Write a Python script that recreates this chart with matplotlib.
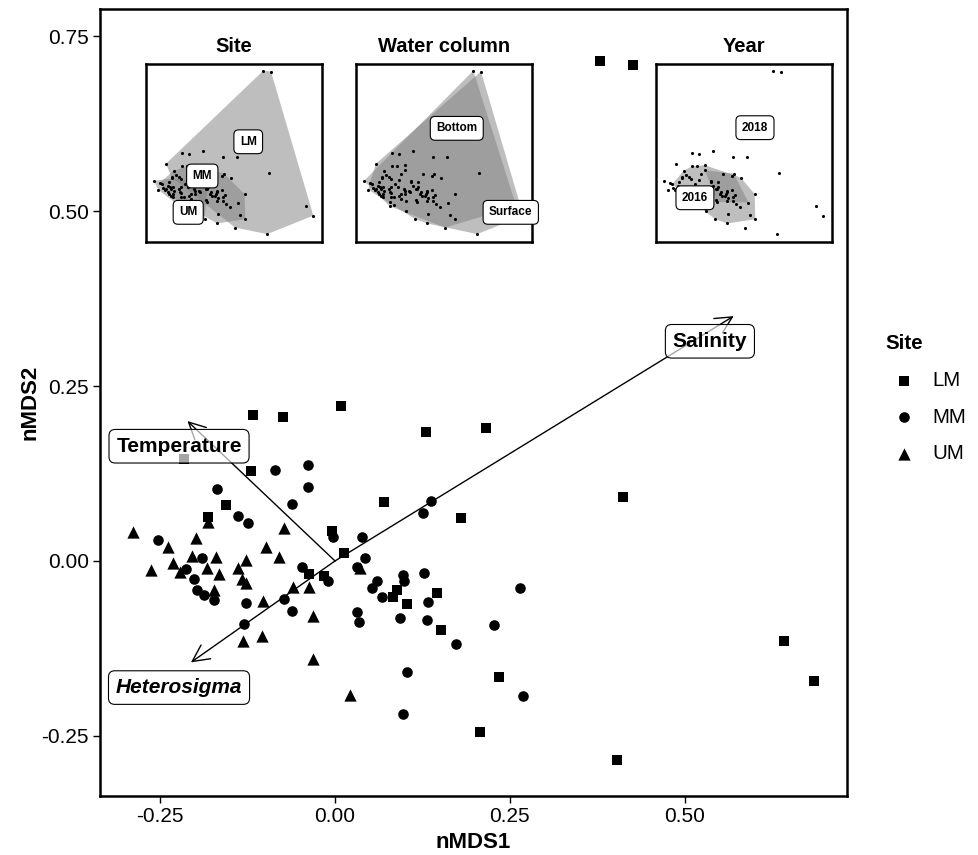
import numpy as np
import matplotlib
matplotlib.use("Agg")
import matplotlib.pyplot as plt
from matplotlib.patches import Polygon

plt.rcParams['font.family'] = ['Liberation Sans', 'DejaVu Sans']
plt.rcParams['axes.unicode_minus'] = False

# nMDS scores per site
lm_x = [0.379, 0.426, -0.117, -0.074, 0.009, -0.216, -0.120, -0.156, -0.182, -0.004,
        0.013, -0.037, -0.016, 0.130, 0.216, 0.070, 0.180, 0.089, 0.083, 0.103,
        0.146, 0.152, 0.235, 0.412, 0.642, 0.685, 0.207, 0.403]
lm_y = [0.714, 0.709, 0.209, 0.206, 0.221, 0.146, 0.129, 0.080, 0.063, 0.043,
        0.011, -0.019, -0.021, 0.184, 0.190, 0.084, 0.061, -0.041, -0.051, -0.061,
        -0.046, -0.099, -0.166, 0.091, -0.114, -0.171, -0.244, -0.284]
lm_depth = ['B', 'S', 'B', 'S', 'B', 'S', 'B', 'S', 'B', 'S',
            'B', 'S', 'B', 'S', 'B', 'S', 'B', 'S', 'B', 'S',
            'B', 'S', 'B', 'S', 'B', 'S', 'B', 'S']
lm_year = [2018, 2018, 2018, 2018, 2018, 2018, 2016, 2016, 2016, 2016,
           2017, 2016, 2016, 2018, 2018, 2016, 2016, 2017, 2016, 2016,
           2016, 2016, 2016, 2018, 2018, 2018, 2018, 2018]

mm_x = [-0.086, -0.039, -0.169, -0.039, -0.062, -0.139, -0.124, -0.003, -0.253, -0.190,
        -0.213, -0.202, -0.197, -0.187, -0.173, -0.047, -0.010, -0.073, -0.127, -0.062,
        -0.130, 0.137, 0.126, 0.039, 0.043, 0.031, 0.060, 0.053, 0.067, 0.097,
        0.099, 0.127, 0.133, 0.132, 0.093, 0.031, 0.034, 0.173, 0.227, 0.265,
        0.103, 0.269, 0.097]
mm_y = [0.130, 0.137, 0.103, 0.106, 0.081, 0.064, 0.054, 0.034, 0.030, 0.004,
        -0.011, -0.026, -0.041, -0.049, -0.056, -0.009, -0.029, -0.054, -0.060, -0.071,
        -0.090, 0.086, 0.069, 0.034, 0.004, -0.009, -0.029, -0.039, -0.051, -0.020,
        -0.029, -0.017, -0.059, -0.084, -0.081, -0.073, -0.087, -0.119, -0.091, -0.039,
        -0.159, -0.193, -0.219]
mm_depth = ['S', 'B', 'S', 'B', 'S', 'B', 'S', 'B', 'S', 'B',
            'S', 'B', 'S', 'B', 'S', 'B', 'S', 'B', 'S', 'B',
            'S', 'B', 'S', 'B', 'S', 'B', 'S', 'B', 'S', 'B',
            'S', 'B', 'S', 'B', 'S', 'B', 'S', 'B', 'S', 'B',
            'S', 'B', 'S']
mm_year = [2016, 2016, 2016, 2017, 2016, 2016, 2016, 2016, 2018, 2016,
           2018, 2018, 2018, 2018, 2018, 2016, 2016, 2016, 2018, 2016,
           2018, 2017, 2017, 2016, 2017, 2016, 2016, 2016, 2016, 2017,
           2016, 2016, 2017, 2016, 2016, 2017, 2017, 2016, 2017, 2016,
           2016, 2016, 2016]

um_x = [-0.289, -0.073, -0.199, -0.239, -0.099, -0.080, -0.205, -0.170, -0.127, -0.232,
        -0.183, -0.263, -0.222, -0.139, -0.166, -0.133, -0.127, -0.173, -0.060, -0.037,
        -0.103, -0.031, -0.132, -0.104, -0.182, 0.036, -0.031, 0.021]
um_y = [0.041, 0.047, 0.033, 0.020, 0.020, 0.006, 0.007, 0.006, 0.001, -0.003,
        -0.010, -0.013, -0.016, -0.010, -0.019, -0.026, -0.031, -0.041, -0.037, -0.037,
        -0.057, -0.079, -0.114, -0.107, 0.056, -0.010, -0.140, -0.191]
um_depth = ['B', 'S', 'B', 'S', 'B', 'S', 'B', 'S', 'B', 'S',
            'B', 'S', 'B', 'S', 'B', 'S', 'B', 'S', 'B', 'S',
            'B', 'S', 'B', 'S', 'B', 'S', 'B', 'S']
um_year = [2018, 2016, 2016, 2016, 2016, 2016, 2018, 2016, 2016, 2018,
           2018, 2018, 2018, 2016, 2018, 2016, 2016, 2018, 2016, 2016,
           2016, 2016, 2018, 2018, 2018, 2016, 2016, 2016]

# environmental vectors
vec_names = ['Salinity', 'Temperature', 'Heterosigma']
vec_x = [0.570, -0.211, -0.206]
vec_y = [0.350, 0.200, -0.145]
vec_lab_x = [0.536, -0.223, -0.223]
vec_lab_y = [0.314, 0.164, -0.181]

sites = ['LM', 'MM', 'UM']
site_markers = {'LM': 's', 'MM': 'o', 'UM': '^'}
site_sizes = {'LM': 60, 'MM': 58, 'UM': 78}

# inset group labels
site_lab = {'LM': (0.287, 0.280), 'MM': (0.006, 0.071), 'UM': (-0.080, -0.151)}
depth_lab = {'Bottom': (0.278, 0.362), 'Surface': (0.608, -0.151)}
year_lab = {'2018': (0.267, 0.366), '2016': (-0.100, -0.062)}

all_x = np.array(lm_x + mm_x + um_x)
all_y = np.array(lm_y + mm_y + um_y)
all_site = np.array(['LM'] * len(lm_x) + ['MM'] * len(mm_x) + ['UM'] * len(um_x))
all_depth = np.array(lm_depth + mm_depth + um_depth)
all_year = np.array(lm_year + mm_year + um_year)


def hull(px, py):
    pts = sorted(set(zip(px, py)))
    if len(pts) < 3:
        return pts

    def cross(o, a, b):
        return (a[0] - o[0]) * (b[1] - o[1]) - (a[1] - o[1]) * (b[0] - o[0])
    lower, upper = [], []
    for p in pts:
        while len(lower) >= 2 and cross(lower[-2], lower[-1], p) <= 0:
            lower.pop()
        lower.append(p)
    for p in reversed(pts):
        while len(upper) >= 2 and cross(upper[-2], upper[-1], p) <= 0:
            upper.pop()
        upper.append(p)
    return lower[:-1] + upper[:-1]


W, H = 979, 855
fig = plt.figure(figsize=(W / 100, H / 100), dpi=100)
ax = fig.add_axes([100 / W, 1 - 796 / H, 747 / W, 787 / H])

xs = {'LM': lm_x, 'MM': mm_x, 'UM': um_x}
ys = {'LM': lm_y, 'MM': mm_y, 'UM': um_y}
handles = []
for s in sites:
    h = ax.scatter(xs[s], ys[s], marker=site_markers[s], s=site_sizes[s],
                   color='black', linewidths=0, zorder=2, label=s)
    handles.append(h)

for name, vx, vy, lx, ly in zip(vec_names, vec_x, vec_y, vec_lab_x, vec_lab_y):
    ax.annotate('', xy=(vx, vy), xytext=(0, 0),
                arrowprops=dict(arrowstyle='->,head_length=0.8,head_width=0.4',
                                mutation_scale=15, lw=1.0, color='black',
                                shrinkA=0, shrinkB=0), zorder=3)
    style = 'italic' if name == 'Heterosigma' else 'normal'
    ax.text(lx, ly, name, fontsize=15, fontweight='bold', fontstyle=style,
            ha='center', va='center', zorder=4,
            bbox=dict(boxstyle='round,pad=0.35,rounding_size=0.3',
                      fc=(1, 1, 1, 0.65), ec='black', lw=0.8))

ax.set_xlim(-0.336, 0.732)
ax.set_ylim(-0.336, 0.789)
ax.set_xticks([-0.25, 0, 0.25, 0.5])
ax.set_xticklabels(['-0.25', '0.00', '0.25', '0.50'])
ax.set_yticks([-0.25, 0, 0.25, 0.5, 0.75])
ax.set_yticklabels(['-0.25', '0.00', '0.25', '0.50', '0.75'])
ax.tick_params(labelsize=15, length=5, width=1.0, pad=3, colors='black')
for sp in ax.spines.values():
    sp.set_linewidth(1.8)
ax.set_xlabel('nMDS1', fontsize=16, fontweight='bold')
ax.set_ylabel('nMDS2', fontsize=16, fontweight='bold')
ax.xaxis.set_label_coords(0.5, -0.046)
ax.yaxis.set_label_coords(-0.08, 0.5)

leg = ax.legend(handles=handles, title='Site', frameon=False, loc='upper left',
                bbox_to_anchor=(879 / W, 1 - 328 / H), bbox_transform=fig.transFigure,
                fontsize=14.7, title_fontproperties={'weight': 'bold', 'size': 14.8},
                handlelength=1.8, handletextpad=0.5, labelspacing=0.87,
                borderpad=0.3, borderaxespad=0, alignment='left', scatterpoints=1)

# insets
inset_defs = [
    ('Site', 146, all_site, ['LM', 'MM', 'UM'], site_lab),
    ('Water column', 356, all_depth, ['B', 'S'], depth_lab),
    ('Year', 656, all_year, [2016, 2017], year_lab),
]
for title, left, groups, levels, labs in inset_defs:
    iax = fig.add_axes([left / W, 1 - 242.3 / H, 175.7 / W, 178.3 / H])
    for lev in levels:
        m = groups == lev
        hp = hull(all_x[m], all_y[m])
        iax.add_patch(Polygon(hp, closed=True, fc='#7f7f7f', ec='none', alpha=0.5, zorder=1))
    iax.scatter(all_x, all_y, s=5, color='black', linewidths=0, zorder=2)
    for txt, (tx, ty) in labs.items():
        iax.text(tx, ty, txt, fontsize=8.5, fontweight='bold', ha='center', va='center',
                 zorder=3, bbox=dict(boxstyle='round,pad=0.5,rounding_size=0.4',
                                     fc='white', ec='black', lw=0.8))
    iax.set_xlim(-0.338, 0.736)
    iax.set_ylim(-0.334, 0.755)
    iax.set_xticks([])
    iax.set_yticks([])
    for sp in iax.spines.values():
        sp.set_linewidth(1.8)
    iax.set_title(title, fontsize=14.5, fontweight='bold', pad=9)

fig.savefig('out.png', dpi=100)
